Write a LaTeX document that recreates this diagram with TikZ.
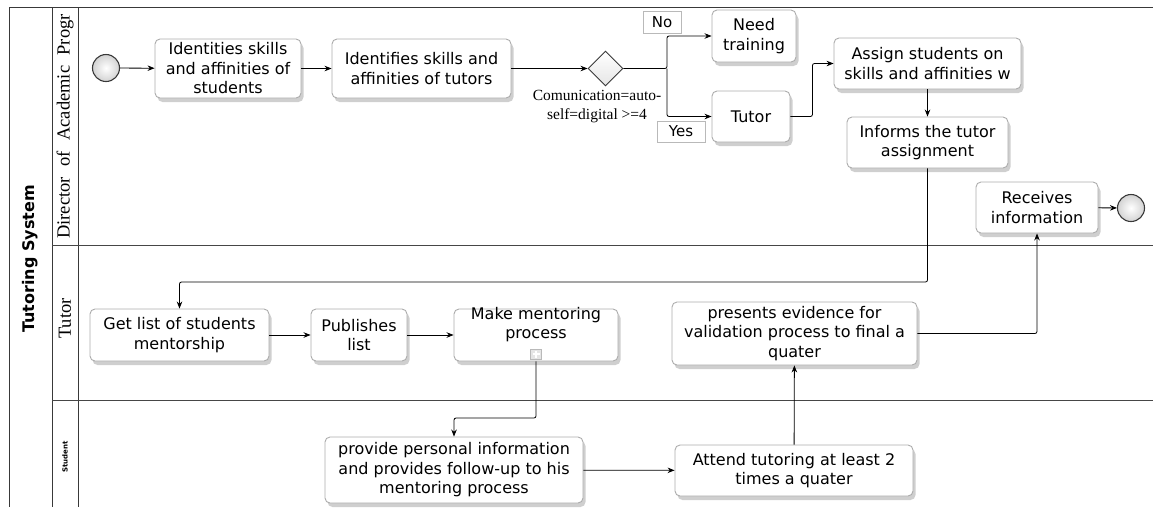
\documentclass[tikz,border=0pt]{standalone}
\usepackage{fontspec}
\setmainfont{DejaVu Sans}
\newfontfamily\lserif{Liberation Serif}
\usetikzlibrary{arrows.meta,shapes.geometric,shadows}
\begin{document}
\begin{tikzpicture}[x=1pt,y=-1pt,
  task/.style={draw=gray!65, line width=0.9pt, rounded corners=5pt, fill=white,
    align=center, inner sep=0pt, font=\fontsize{16}{19.5}\selectfont,
    drop shadow={shadow xshift=2.5pt, shadow yshift=-4pt, fill=gray!75, opacity=0.5}},
  tasktext/.style={align=center, inner sep=0pt, font=\fontsize{16}{19.5}\selectfont},
  event/.style={circle, minimum size=27pt, inner sep=0pt, draw=gray!45!black,
    line width=1.1pt, inner color=white, outer color=gray!35},
  gateway/.style={diamond, minimum width=35pt, minimum height=35pt, inner sep=0pt,
    draw=gray!45!black, line width=0.9pt, top color=white, bottom color=gray!20},
  flag/.style={draw=gray!55, fill=white, inner sep=0pt, line width=0.8pt,
    font=\fontsize{15}{18}\selectfont},
  conn/.style={-{Stealth[length=7pt,width=5.5pt]}, line width=0.8pt, rounded corners=2pt},
  pool/.style={draw=gray!45!black, line width=1pt},
  lane/.style={draw=gray!55!black, line width=1pt},
  lanelabel/.style={rotate=90, inner sep=0pt, font=\lserif\fontsize{18.5}{20}\selectfont}
]
\useasboundingbox (0,0) rectangle (1153,507);

% pool and lanes
\draw[pool] (1153,7) -- (9,7) -- (9,507);
\draw[pool] (52,7) -- (52,507);
\draw[pool] (78,7) -- (78,507);
\draw[lane] (52,245) -- (1153,245);
\draw[lane] (52,400) -- (1153,400);

\node[rotate=90, inner sep=0pt, font=\bfseries\fontsize{16}{19}\selectfont] (pooltitle) at (30,259) {Tutoring System};
\node[lanelabel] (lane1) at (65,126.5) {Director\hspace{10.5pt}of\hspace{10.5pt}Academic\hspace{10.5pt}Progr};
\node[lanelabel] (lane2) at (65,318.5) {Tutor};
\node[rotate=90, inner sep=0pt, font=\bfseries\fontsize{7}{8}\selectfont] (lane3) at (65,457) {Student};

% Director lane
\node[event] (start) at (106,68) {};
\node[task, minimum width=146pt, minimum height=59pt] (t1) at (228,68.5) {Identities skills\\and affinities of\\students};
\node[task, minimum width=179pt, minimum height=59pt] (t2) at (421.5,68.5) {Identifies skills and\\affinities of tutors};
\node[gateway] (gw) at (605.5,68.5) {};
\node[align=center, inner sep=0pt, font=\lserif\fontsize{15.5}{19}\selectfont] (gwl) at (597,106.5) {Comunication=auto-\\self=digital >=4};
\node[task, minimum width=84pt, minimum height=52pt] (need) at (754,36) {Need\\training};
\node[task, minimum width=78pt, minimum height=51pt] (tutor) at (751,116.5) {Tutor};
\node[flag, minimum width=38pt, minimum height=22pt] (no) at (662,22) {No};
\node[flag, minimum width=48pt, minimum height=21pt] (yes) at (681,131.5) {Yes};
\node[task, minimum width=187pt, minimum height=51pt] (assign) at (927.5,63.5) {Assign students on\\skills and affinities w};
\node[task, minimum width=161pt, minimum height=51pt] (informs) at (927.5,142.5) {Informs the tutor\\assignment};
\node[task, minimum width=122pt, minimum height=51pt] (receives) at (1037,207.5) {Receives\\information};
\node[event] (endev) at (1131,208) {};

% Tutor lane
\node[task, minimum width=179pt, minimum height=52pt] (getlist) at (179.5,335) {Get list of students\\mentorship};
\node[task, minimum width=96pt, minimum height=52pt] (publish) at (359,335) {Publishes\\list};
\node[task, minimum width=164pt, minimum height=52pt] (mm) at (536,335) {};
\node[tasktext] (mmt) at (536,324.5) {Make mentoring\\process};
\node[draw=gray!55, fill=gray!20, minimum width=11pt, minimum height=10pt, inner sep=0pt] (plus) at (536,354) {};
\draw[white, line width=1.6pt] (plus.center) ++(-3.5,0) -- ++(7,0) (plus.center) ++(0,-3.5) -- ++(0,7);
\node[task, minimum width=245pt, minimum height=63pt] (presents) at (794.5,333.5) {presents evidence for\\validation process to final a\\quater};

% Student lane
\node[task, minimum width=258pt, minimum height=66pt] (provide) at (454,470) {provide personal information\\and provides follow-up to his\\mentoring process};
\node[task, minimum width=238pt, minimum height=51pt] (attend) at (794,470.5) {Attend tutoring at least 2\\times a quater};

% helper coordinates
\coordinate (split) at (667,68.5);
\coordinate (c1) at (928,282);
\coordinate (c2) at (536,418);

% connectors
\draw[conn] (start) -- (t1);
\draw[conn] (t1) -- (t2);
\draw[conn] (t2) -- (gw);
\draw[conn] (gw.east) -- (split) |- (need.west);
\draw[conn] (split) |- (tutor.west);
\draw[conn] (tutor.east) -- ++(22,0) |- (assign.west);
\draw[conn] (assign) -- (informs);
\draw[conn] (informs.south) -- (informs.south |- c1) -| (getlist.north);
\draw[conn] (getlist) -- (publish);
\draw[conn] (publish) -- (mm);
\draw[conn] (mm.south) -- (c2) -| (provide.north);
\draw[conn] (provide) -- (attend);
\draw[conn] (attend) -- (presents);
\draw[conn] (presents.east) -| (receives.south);
\draw[conn] (receives) -- (endev);
\end{tikzpicture}
\end{document}
